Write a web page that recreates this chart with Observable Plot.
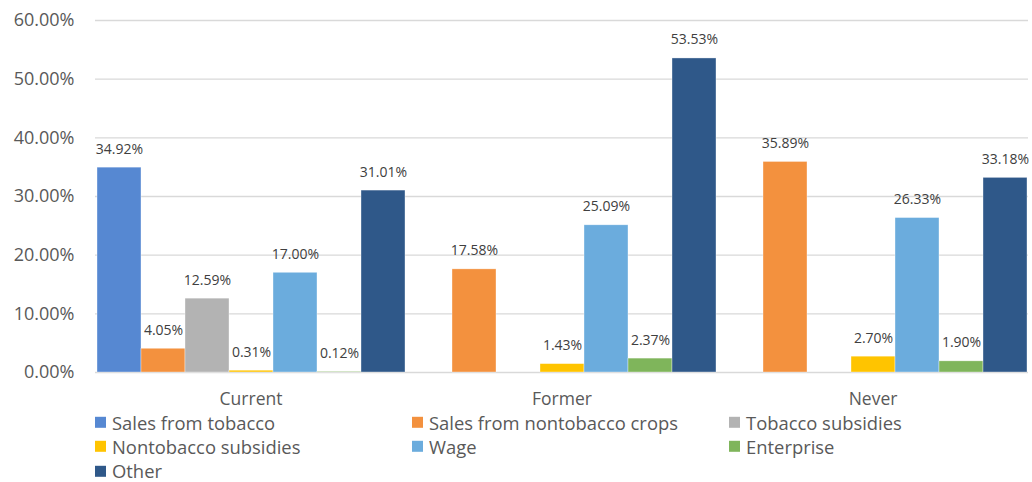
<!DOCTYPE html>
<html><head><meta charset="utf-8">
<script src="https://cdn.jsdelivr.net/npm/d3@7"></script>
<script src="https://cdn.jsdelivr.net/npm/@observablehq/plot@0.6"></script>
<style>
body{margin:0;background:#fff;font-family:"Open Sans",sans-serif;}
#wrap{position:relative;width:1032px;height:482px;overflow:hidden;}
#chart{position:absolute;left:0;top:0;}
.item{position:absolute;display:flex;align-items:center;font-size:18.4px;line-height:1;color:#595959;white-space:nowrap;transform:translateY(-50%);}
.sw{width:11px;height:11px;margin-right:6px;flex:none;}
</style></head><body><div id="wrap"><div id="chart"></div><div id="legend"></div></div>
<script>
const groups = ["Current", "Former", "Never"];
const series = ["Sales from tobacco", "Sales from nontobacco crops", "Tobacco subsidies", "Nontobacco subsidies", "Wage", "Enterprise", "Other"];
const colors = ["#5688D2", "#F3913E", "#B3B3B3", "#FFC400", "#6BACDD", "#7FB55B", "#2F5889"];
const current = [34.92, 4.05, 12.59, 0.31, 17.00, 0.12, 31.01];
const former = [null, 17.58, null, 1.43, 25.09, 2.37, 53.53];
const never = [null, 35.89, null, 2.70, 26.33, 1.90, 33.18];
const yTicks = [0, 10, 20, 30, 40, 50, 60];

const valuesByGroup = [current, former, never];
const data = [];
groups.forEach((g, gi) => series.forEach((s, si) => {
  data.push({group: g, series: s, value: valuesByGroup[gi][si]});
}));
const present = data.filter(d => d.value != null);

const chart = Plot.plot({
  width: 1032,
  height: 482,
  marginLeft: 94,
  marginRight: 4,
  marginTop: 20,
  marginBottom: 110,
  style: {fontFamily: "'Open Sans', sans-serif", background: "#fff"},
  fx: {domain: groups, padding: 0, label: null},
  x: {domain: series, padding: 0, axis: null},
  y: {domain: [0, 60], axis: null},
  color: {domain: series, range: colors},
  marks: [
    Plot.ruleY(yTicks, {stroke: "#d9d9d9", strokeWidth: 1.3}),
    Plot.axisY(yTicks, {tickSize: 0, tickPadding: 21, fontSize: 18, fill: "#595959", tickFormat: d => d.toFixed(2) + "%", label: null}),
    Plot.axisFx({anchor: "bottom", tickSize: 0, tickPadding: 20, fontSize: 17.5, fill: "#595959", label: null}),
    Plot.barY(present, {fx: "group", x: "series", y: "value", fill: "series", stroke: "#fff", strokeWidth: 0.6, strokeOpacity: 0.6}),
    Plot.text(present, {fx: "group", x: "series", y: "value", text: d => d.value.toFixed(2) + "%", dy: -18.5, fontSize: 14, fill: "#404040"})
  ]
});
document.getElementById("chart").appendChild(chart);

const legend = document.getElementById("legend");
const colX = [95, 412, 729];
const rowY = [422.5, 446.5, 471];
series.forEach((s, i) => {
  const el = document.createElement("div");
  el.className = "item";
  el.style.left = colX[i % 3] + "px";
  el.style.top = rowY[Math.floor(i / 3)] + "px";
  const sw = document.createElement("span");
  sw.className = "sw";
  sw.style.background = colors[i];
  el.appendChild(sw);
  el.appendChild(document.createTextNode(s));
  legend.appendChild(el);
});
</script>
</body></html>
